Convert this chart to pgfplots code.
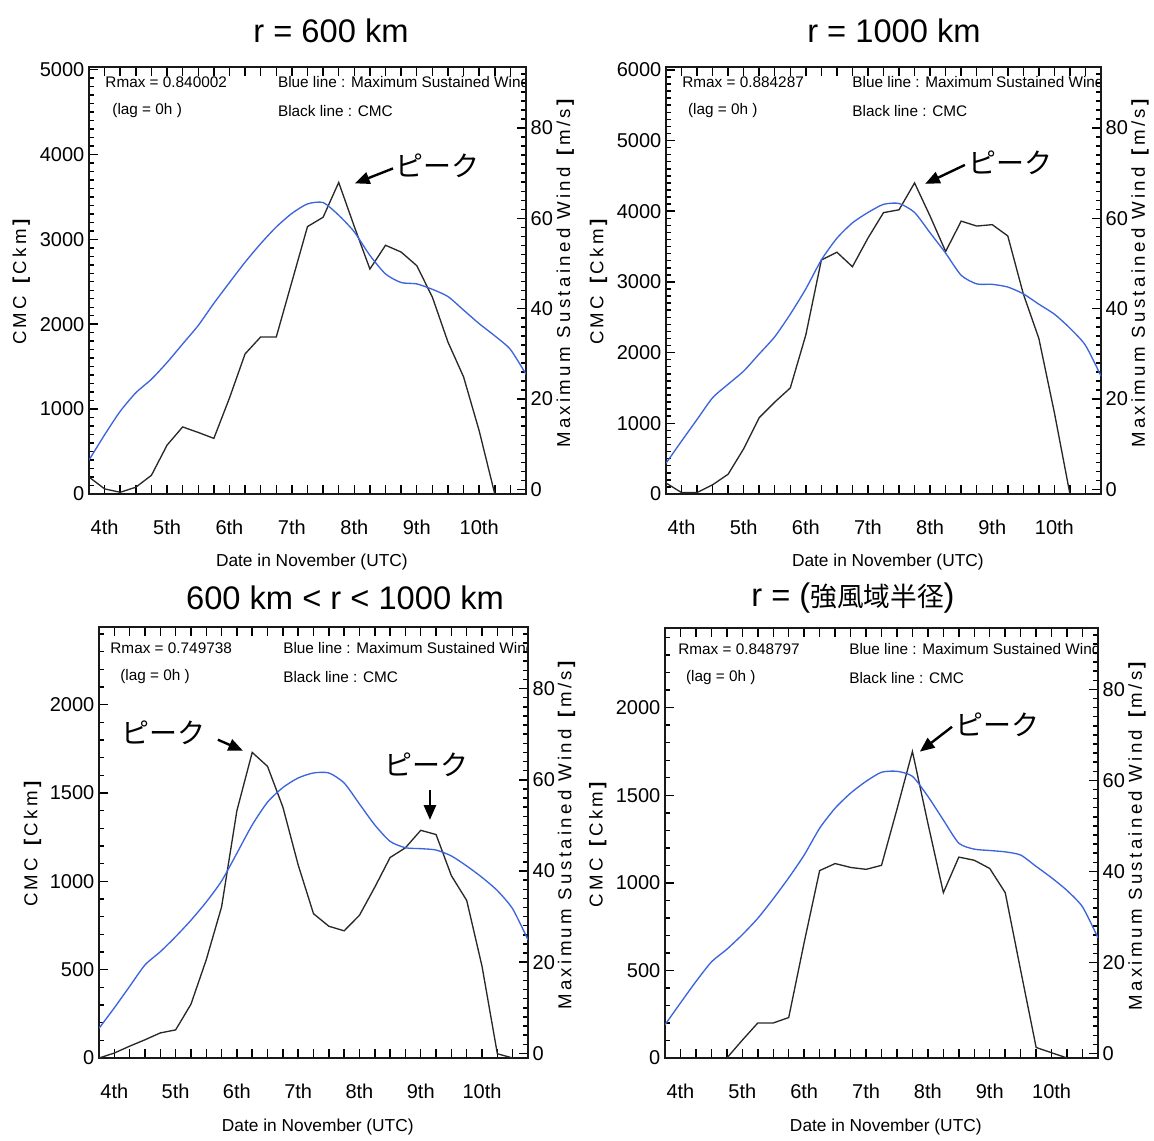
\documentclass[border=0pt]{standalone}
\usepackage{pgfplots}
\pgfplotsset{compat=1.18}
\usepackage{fontspec}
\setmainfont{Liberation Sans}
\newfontfamily\jp{Noto Sans CJK JP}
\newfontfamily\idl[LetterSpace=18]{Liberation Sans}
\usetikzlibrary{arrows.meta}
\definecolor{idlblue}{RGB}{60,100,220}
\definecolor{idlblack}{RGB}{40,40,40}

\pgfplotsset{
  base/.style={scale only axis, anchor=south west, xmin=3.75, xmax=10.75,
    axis line style={line width=1.1pt, black!90},
    tick align=inside,
    major tick length=7pt, minor tick length=4pt,
    xtick style={line width=1.1pt, black},
    ytick style={line width=1.1pt, black},
    minor tick style={line width=1pt, black},
    ticklabel style={font=\fontsize{15}{15}\selectfont},
    /pgf/number format/assume math mode=true,
    /pgf/number format/1000 sep={},
    scaled y ticks=false},
  L/.style={base, ymin=0, ytick pos=left, xtick pos=both, xticklabel pos=lower,
    xtick={3.75,4,4.25,4.5,4.75,5,5.25,5.5,5.75,6,6.25,6.5,6.75,7,7.25,7.5,7.75,8,8.25,8.5,8.75,9,9.25,9.5,9.75,10,10.25,10.5,10.75},
    xticklabels={,4th,,,,5th,,,,6th,,,,7th,,,,8th,,,,9th,,,,10th,,,},
    xticklabel style={yshift=-16pt},
    xlabel={Date in November (UTC)},
    xlabel style={at={(axis description cs:0.51,-0.16)}, anchor=center, font=\fontsize{13}{13}\selectfont},
    ylabel={CMC \textbf{[}Ckm\textbf{]}},
    ylabel style={at={(axis description cs:-0.155,0.5)}, anchor=center, font=\idl\fontsize{14}{14}\selectfont}},
  R/.style={base, axis x line=none, axis y line*=right, tick align=inside, ymin=-1, ymax=93.5,
    ytick={0,20,40,60,80}, minor ytick={2,4,...,92},
    ylabel={Maximum Sustained Wind \textbf{[}m/s\textbf{]}},
    ylabel style={at={(axis description cs:1.09,0.52)}, anchor=center, font=\idl\fontsize{14}{14}\selectfont}},
}
\tikzset{
  info/.style={font=\fontsize{11.5}{12}\selectfont, anchor=west, inner sep=0pt},
  pk/.style={font=\jp\fontsize{21}{21}\selectfont, inner sep=0pt},
  pkarrow/.style={-{Triangle[length=11pt,width=9pt]}, line width=1.8pt},
  cmc/.style={idlblack, line width=1pt},
  wind/.style={idlblue, line width=1pt, smooth, tension=0.4},
}

\begin{document}
\begin{tikzpicture}
\path[use as bounding box] (0,0) rectangle (865.5pt,855pt);

% ---------------- Panel 1: r = 600 km
\begin{axis}[L, at={(66.75pt,484.5pt)}, width=327.75pt, height=320.25pt,
  ymax=5030, ytick={0,1000,...,5000}, minor ytick={100,200,...,5000}]
\addplot[cmc] coordinates {(3.75,200)(4.0,60)(4.25,20)(4.5,80)(4.75,220)(5.0,575)(5.25,790)(5.5,725)(5.75,655)(6.0,1130)(6.25,1650)(6.5,1850)(6.75,1850)(7.0,2500)(7.25,3150)(7.5,3260)(7.75,3670)(8.0,3150)(8.25,2650)(8.5,2930)(8.75,2850)(9.0,2690)(9.25,2320)(9.5,1790)(9.75,1380)(10.0,745)(10.25,0)};
\node[info] at (rel axis cs:0.037,0.965) {Rmax = 0.840002};
\node[info] at (rel axis cs:0.053,0.897) {(lag = 0h )};
\node[info] at (rel axis cs:0.432,0.965) {Blue line : Maximum Sustained Wind};
\node[info] at (rel axis cs:0.432,0.897) {Black line : CMC};
\draw[pkarrow] (axis cs:8.62,3835) -- (axis cs:8.01,3659);
\node[pk, anchor=west] at (axis cs:8.66,3870) {ピーク};
\end{axis}
\begin{axis}[R, at={(66.75pt,484.5pt)}, width=327.75pt, height=320.25pt]
\addplot[wind] coordinates {(3.75,6.5)(4.0,12.1)(4.25,17.3)(4.5,21.4)(4.75,24.4)(5.0,28.1)(5.25,32.2)(5.5,36.3)(5.75,41.2)(6.0,45.8)(6.25,50.3)(6.5,54.4)(6.75,58.1)(7.0,61.1)(7.25,63.2)(7.5,63.5)(7.75,60.7)(8.0,57.0)(8.25,51.8)(8.5,47.7)(8.75,45.8)(9.0,45.5)(9.25,44.3)(9.5,42.7)(9.75,39.7)(10.0,36.7)(10.25,34.0)(10.5,31.0)(10.75,25.5)};
\end{axis}

% ---------------- Panel 2: r = 1000 km
\begin{axis}[L, at={(499.5pt,484.5pt)}, width=326.25pt, height=320.25pt,
  ymax=6040, ytick={0,1000,...,6000}, minor ytick={100,200,...,6000}]
\addplot[cmc] coordinates {(3.75,156)(4.0,20)(4.25,20)(4.5,130)(4.75,280)(5.0,640)(5.25,1080)(5.5,1300)(5.75,1500)(6.0,2250)(6.25,3310)(6.5,3420)(6.75,3215)(7.0,3620)(7.25,3980)(7.5,4020)(7.75,4400)(8.0,3930)(8.25,3430)(8.5,3860)(8.75,3790)(9.0,3810)(9.25,3650)(9.5,2830)(9.75,2200)(10.0,1150)(10.25,0)(10.5,0)};
\node[info] at (rel axis cs:0.037,0.965) {Rmax = 0.884287};
\node[info] at (rel axis cs:0.050,0.897) {(lag = 0h )};
\node[info] at (rel axis cs:0.428,0.965) {Blue line : Maximum Sustained Wind};
\node[info] at (rel axis cs:0.428,0.897) {Black line : CMC};
\draw[pkarrow] (axis cs:8.56,4655) -- (axis cs:7.92,4387);
\node[pk, anchor=west] at (axis cs:8.62,4680) {ピーク};
\end{axis}
\begin{axis}[R, at={(499.5pt,484.5pt)}, width=326.25pt, height=320.25pt]
\addplot[wind] coordinates {(3.75,5.8)(4.0,10.7)(4.25,15.5)(4.5,20.3)(4.75,23.3)(5.0,26.2)(5.25,30.0)(5.5,33.8)(5.75,38.8)(6.0,44.4)(6.25,50.8)(6.5,55.6)(6.75,59.0)(7.0,61.3)(7.25,63.1)(7.5,63.3)(7.75,61.3)(8.0,56.8)(8.25,52.3)(8.5,47.4)(8.75,45.5)(9.0,45.4)(9.25,44.8)(9.5,43.3)(9.75,41.0)(10.0,38.8)(10.25,35.7)(10.5,31.9)(10.75,25.1)};
\end{axis}

% ---------------- Panel 3: 600 km < r < 1000 km
\begin{axis}[L, at={(74.25pt,61.5pt)}, width=321.75pt, height=323.25pt,
  ymax=2440, ytick={0,500,...,2000}, minor ytick={100,200,...,2400}]
\addplot[cmc] coordinates {(3.75,0)(4.0,28)(4.25,67)(4.5,103)(4.75,142)(5.0,159)(5.25,304)(5.5,556)(5.75,855)(6.0,1400)(6.25,1730)(6.5,1651)(6.75,1421)(7.0,1093)(7.25,817)(7.5,746)(7.75,720)(8.0,808)(8.25,967)(8.5,1135)(8.75,1190)(9.0,1289)(9.25,1265)(9.5,1032)(9.75,892)(10.0,519)(10.25,24)(10.5,0)};
\node[info] at (rel axis cs:0.026,0.951) {Rmax = 0.749738};
\node[info] at (rel axis cs:0.049,0.884) {(lag = 0h )};
\node[info] at (rel axis cs:0.429,0.951) {Blue line : Maximum Sustained Wind};
\node[info] at (rel axis cs:0.429,0.884) {Black line : CMC};
\node[pk] at (axis cs:4.81,1841) {ピーク};
\draw[pkarrow] (axis cs:5.69,1802) -- (axis cs:6.10,1739);
\node[pk] at (axis cs:9.09,1660) {ピーク};
\draw[pkarrow] (axis cs:9.15,1518) -- (axis cs:9.15,1348);
\end{axis}
\begin{axis}[R, at={(74.25pt,61.5pt)}, width=321.75pt, height=323.25pt]
\addplot[wind] coordinates {(3.75,5.5)(4.0,10.0)(4.25,14.7)(4.5,19.4)(4.75,22.3)(5.0,25.6)(5.25,29.2)(5.5,33.2)(5.75,37.8)(6.0,43.9)(6.25,50.1)(6.5,55.1)(6.75,58.3)(7.0,60.4)(7.25,61.5)(7.5,61.5)(7.75,59.3)(8.0,54.7)(8.25,50.1)(8.5,46.5)(8.75,45.1)(9.0,44.9)(9.25,44.6)(9.5,43.3)(9.75,41.1)(10.0,38.6)(10.25,35.7)(10.5,31.7)(10.75,24.9)};
\end{axis}

% ---------------- Panel 4: r = (強風域半径)
\begin{axis}[L, at={(498.75pt,61.5pt)}, width=324.75pt, height=322.5pt,
  ymax=2455, ytick={0,500,...,2000}, minor ytick={100,200,...,2400}]
\addplot[cmc] coordinates {(4.75,0)(5.0,102)(5.25,200)(5.5,200)(5.75,231)(6.0,660)(6.25,1070)(6.5,1110)(6.75,1088)(7.0,1077)(7.25,1100)(7.5,1420)(7.75,1750)(8.0,1340)(8.25,944)(8.5,1147)(8.75,1129)(9.0,1082)(9.25,944)(9.5,500)(9.75,60)(10.0,30)(10.25,0)};
\node[info] at (rel axis cs:0.030,0.951) {Rmax = 0.848797};
\node[info] at (rel axis cs:0.048,0.884) {(lag = 0h )};
\node[info] at (rel axis cs:0.425,0.951) {Blue line : Maximum Sustained Wind};
\node[info] at (rel axis cs:0.425,0.884) {Black line : CMC};
\draw[pkarrow] (axis cs:8.39,1891) -- (axis cs:7.87,1749);
\node[pk, anchor=west] at (axis cs:8.44,1905) {ピーク};
\end{axis}
\begin{axis}[R, at={(498.75pt,61.5pt)}, width=324.75pt, height=322.5pt]
\addplot[wind] coordinates {(3.75,6.3)(4.0,11.1)(4.25,15.8)(4.5,20.1)(4.75,22.9)(5.0,26.1)(5.25,29.7)(5.5,34.0)(5.75,38.6)(6.0,43.6)(6.25,49.5)(6.5,53.9)(6.75,57.2)(7.0,59.8)(7.25,61.8)(7.5,62.0)(7.75,60.9)(8.0,56.5)(8.25,51.3)(8.5,46.2)(8.75,44.9)(9.0,44.6)(9.25,44.3)(9.5,43.6)(9.75,41.1)(10.0,38.6)(10.25,35.8)(10.5,32.2)(10.75,25.4)};
\end{axis}

% ---------------- Titles
\node[font=\fontsize{24.5}{24.5}\selectfont] at (248.25pt,831.75pt) {r = 600 km};
\node[font=\fontsize{24.5}{24.5}\selectfont] at (670.5pt,831.75pt) {r = 1000 km};
\node[font=\fontsize{24.5}{24.5}\selectfont] at (258.75pt,406.5pt) {600 km < r < 1000 km};
\node[font=\fontsize{24.5}{24.5}\selectfont] at (639.75pt,406.5pt) {r = ({\jp\fontsize{20}{20}\selectfont 強風域半径})};
\end{tikzpicture}
\end{document}
